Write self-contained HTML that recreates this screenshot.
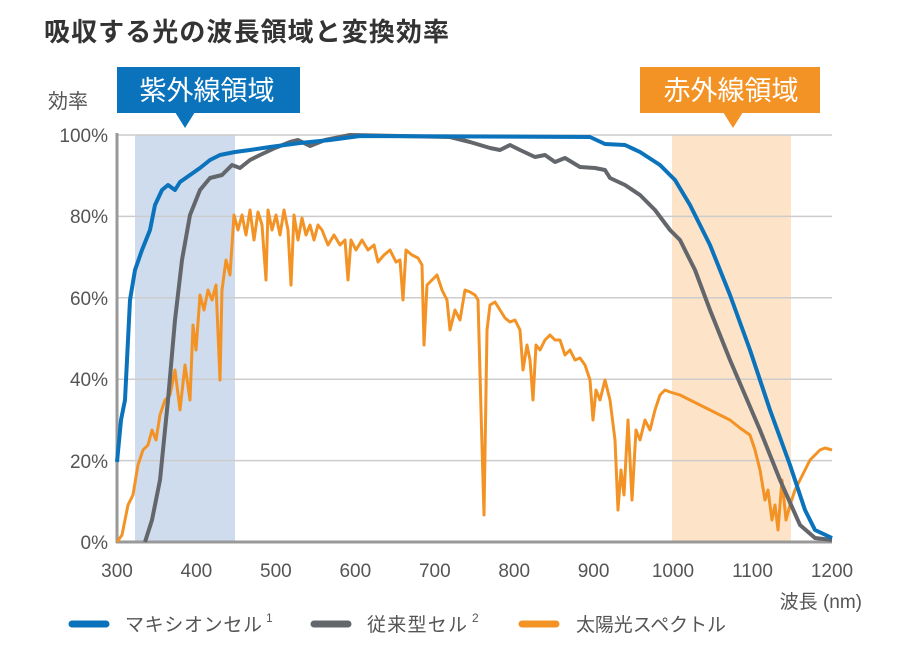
<!DOCTYPE html><html><head><meta charset="utf-8"><style>
body{margin:0;background:#fff;font-family:"Liberation Sans","Noto Sans CJK JP",sans-serif}
</style></head><body>
<svg width="909" height="659" viewBox="0 0 909 659" xmlns="http://www.w3.org/2000/svg" font-family="Liberation Sans, Noto Sans CJK JP, sans-serif">
<text x="44" y="41" font-size="26" font-weight="bold" fill="#333" textLength="405">吸収する光の波長領域と変換効率</text>
<rect x="135" y="135" width="100" height="407" fill="#cfdcee"/>
<rect x="672" y="135" width="119" height="407" fill="#fde3c8"/>
<g stroke="#ccc" stroke-width="1.5">
<line x1="117" y1="135" x2="832" y2="135"/><line x1="117" y1="216.4" x2="832" y2="216.4"/>
<line x1="117" y1="297.8" x2="832" y2="297.8"/><line x1="117" y1="379.2" x2="832" y2="379.2"/>
<line x1="117" y1="460.6" x2="832" y2="460.6"/></g>
<line x1="117" y1="133" x2="117" y2="543" stroke="#999" stroke-width="3"/>
<line x1="116" y1="542" x2="832" y2="542" stroke="#999" stroke-width="3"/>
<rect x="117" y="67" width="183" height="46" fill="#0b73bb"/>
<polygon points="175,112 195,112 185,128" fill="#0b73bb"/>
<text x="207" y="100" font-size="27" fill="#fff" text-anchor="middle">紫外線領域</text>
<rect x="640" y="67" width="180" height="46" fill="#f39325"/>
<polygon points="723,112 743,112 733,128" fill="#f39325"/>
<text x="731" y="100" font-size="27" fill="#fff" text-anchor="middle">赤外線領域</text>
<g font-size="19" fill="#555">
<text x="48" y="108" font-size="20">効率</text>
<g text-anchor="end"><text x="108" y="142">100%</text><text x="108" y="223">80%</text><text x="108" y="305">60%</text><text x="108" y="386">40%</text><text x="108" y="468">20%</text><text x="108" y="549">0%</text></g>
<g text-anchor="middle"><text x="117" y="577">300</text><text x="196.4" y="577">400</text><text x="275.9" y="577">500</text><text x="355.3" y="577">600</text><text x="434.8" y="577">700</text><text x="514.2" y="577">800</text><text x="593.6" y="577">900</text><text x="673" y="577">1000</text><text x="752.5" y="577">1100</text><text x="832" y="577">1200</text></g>
<text x="862" y="608" text-anchor="end">波長 (nm)</text>
<text x="125" y="631" textLength="137">マキシオンセル</text><text x="266" y="622" font-size="12">1</text>
<text x="367" y="631" textLength="100">従来型セル</text><text x="472" y="622" font-size="12">2</text>
<text x="576" y="631" textLength="150">太陽光スペクトル</text>
</g>
<g stroke-linecap="round" stroke-width="7"><line x1="72" y1="624" x2="106" y2="624" stroke="#0b73bb"/><line x1="314" y1="624" x2="348" y2="624" stroke="#63676b"/><line x1="522" y1="624" x2="556" y2="624" stroke="#f39325"/></g>
<g fill="none" stroke-linejoin="round">
<polyline stroke="#f39325" stroke-width="3" points="117,542 122,535 128,505 133,495 138,465 143,450 148,445 152,430 156,440 160,415 165,400 170,395 175,370 180,410 185,365 190,400 193,325 196,350 200,295 204,310 208,290 212,300 216,285 220,380 222,290 226,260 230,275 234,215 238,230 242,215 246,235 250,210 254,240 258,212 262,225 266,280 268,210 272,230 276,215 280,235 284,210 288,230 291,285 294,215 298,240 302,218 306,235 310,225 314,240 318,225 322,230 328,245 334,235 340,245 345,240 348,280 351,240 356,250 362,240 368,250 374,245 378,262 384,255 390,250 396,262 400,260 403,300 406,250 412,255 418,258 422,265 424,345 427,285 432,280 437,275 442,290 447,300 450,330 455,310 460,320 465,290 470,292 475,295 478,300 481,410 484,515 487,330 490,305 495,302 500,310 505,318 510,322 515,320 520,330 523,370 527,345 530,360 533,400 536,345 540,350 545,340 550,335 555,340 560,340 565,355 570,350 575,360 580,358 585,365 590,380 593,420 596,390 600,400 605,380 610,400 615,440 618,510 621,470 624,495 628,420 632,500 636,430 640,440 645,420 650,430 655,410 660,395 665,390 670,392 680,395 690,400 700,405 710,410 720,415 730,420 740,428 750,435 755,450 760,470 765,500 768,490 772,520 775,505 778,530 782,480 786,520 790,505 795,490 800,480 805,470 810,460 815,455 820,450 825,448 832,450"/>
<polyline stroke="#63676b" stroke-width="4" points="145,542 152,520 160,480 168,400 175,320 182,260 190,215 200,190 210,178 222,175 232,165 240,168 250,160 260,155 275,148 290,142 298,140 310,146 325,140 350,135 450,137 470,142 490,148 500,150 510,145 520,150 535,157 545,155 555,162 565,158 580,167 595,168 605,170 610,178 625,185 640,195 655,210 670,230 680,240 695,270 710,310 730,360 745,395 760,430 780,480 800,525 815,538 832,540"/>
<polyline stroke="#0b73bb" stroke-width="4" points="117,462 121,420 125,400 130,300 135,270 142,250 150,230 155,205 162,190 168,185 175,190 180,182 190,175 200,168 210,160 220,155 235,152 250,150 270,147 300,143 330,140 360,136 590,137 605,144 625,145 640,152 660,165 675,180 690,205 710,245 730,295 750,350 770,410 790,465 805,510 815,530 832,538"/>
</g>
</svg></body></html>
